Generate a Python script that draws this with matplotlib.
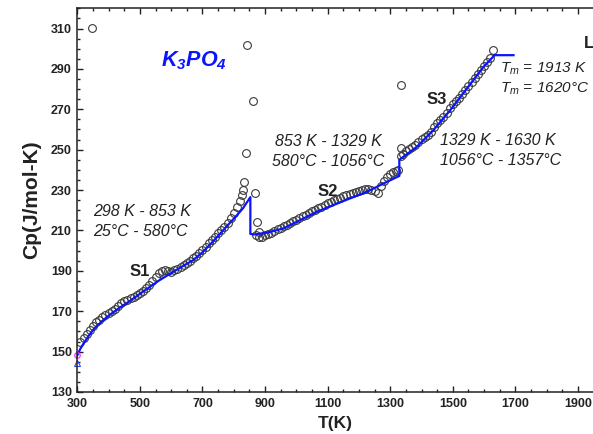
import matplotlib
matplotlib.use("Agg")
import matplotlib.pyplot as plt
from matplotlib.ticker import MultipleLocator

plt.rcParams['font.family'] = ['Liberation Sans', 'DejaVu Sans']
plt.rcParams['mathtext.default'] = 'regular'

# experimental Cp points (K, J/mol-K)
t_s1 = [310, 320, 330, 340, 350, 360, 370, 380, 390, 400, 410, 420, 430, 440, 450,
        460, 470, 480, 490, 500, 510, 520, 530, 540, 550, 560, 570, 580, 590, 600,
        610, 620, 630, 640, 650, 660, 670, 680, 690, 700, 710, 720, 730, 740, 750,
        760, 770, 780, 790, 800, 810, 820, 825, 830]
cp_s1 = [155, 156.5, 158.5, 160.5, 162.5, 164.5, 165.8, 167, 168, 169, 170, 171, 172.5, 174, 175,
         175.8, 176.5, 177.2, 178, 179, 180, 181.5, 183, 185, 187, 189, 190, 190.2, 189.8, 189.5,
         190.2, 191, 192, 193, 194, 195, 196.2, 197.5, 198.8, 200.3, 202, 203.7, 205.3, 207, 208.5,
         210, 211.8, 213.8, 216, 218.5, 221.5, 224.5, 227.7, 230]
t_s2 = [870, 880, 890, 900, 910, 920, 930, 940, 950, 960, 970, 980, 990, 1000, 1010,
        1020, 1030, 1040, 1050, 1060, 1070, 1080, 1090, 1100, 1110, 1120, 1130, 1140, 1150, 1160,
        1170, 1180, 1190, 1200, 1210, 1220, 1230, 1240, 1250, 1260, 1270, 1280, 1290, 1300, 1310,
        1320, 1325]
cp_s2 = [207.5, 207, 207, 207.5, 208, 208.8, 209.5, 210.5, 211.3, 212, 212.8, 213.6, 214.5, 215.3, 216.2,
         217, 217.8, 218.7, 219.5, 220.3, 221, 221.8, 222.6, 223.4, 224.2, 225, 225.7, 226.3, 227, 227.5,
         228, 228.5, 229, 229.6, 230, 230.3, 230.5, 230.2, 229.5, 228.5, 232, 234.5, 236.5, 238, 238.8,
         239.5, 240]
t_s3 = [1335, 1340, 1350, 1360, 1370, 1380, 1390, 1400, 1410, 1420, 1430, 1440, 1450, 1460, 1470,
        1480, 1490, 1500, 1510, 1520, 1530, 1540, 1550, 1560, 1570, 1580, 1590, 1600, 1610, 1620,
        1628]
cp_s3 = [247, 248, 249.5, 250.5, 251.5, 252.5, 254, 255.5, 256.5, 257.5, 259, 261, 263, 264.5, 266,
         268, 270.5, 272.5, 274, 275.5, 277.5, 279.5, 281.5, 283.5, 285.5, 287.5, 289.5, 291.5, 293.5, 295.5,
         299.6]
# scattered points
t_out = [348, 834, 839, 842, 863, 868, 874, 881, 1333, 1334]
cp_out = [310.2, 234, 248.5, 301.8, 274.2, 228.7, 214.3, 209.2, 250.6, 282]

# fitted curve S1 / S2 / S3 / L
t_fit = [298, 310, 320, 335, 350, 375, 400, 430, 460, 510, 563, 616, 670, 700, 723, 750, 776, 800,
         829, 853, 853, 863, 906, 959, 1012, 1066, 1119, 1172, 1226, 1279, 1329, 1329, 1385, 1438,
         1492, 1545, 1598, 1630, 1632, 1694]
cp_fit = [147.5, 151.5, 154, 157.5, 160.7, 164.5, 167.8, 171.2, 174.2, 179.7, 185.4, 190.4, 195.3, 199.2,
          202.8, 207.3, 211.8, 215.8, 220.9, 226.5, 208.3, 208.0, 208.9, 211, 215.1, 219.3, 222.6, 225.9,
          229.2, 233.3, 237, 245, 251.4, 259.7, 269.6, 280.3, 291, 296.2, 296.8, 296.8]

# reference values at 298 K
t_ref = 298
cp_ref_circle = 148.3
cp_ref_tri = 144.5

fig = plt.figure(figsize=(5.93, 4.34), dpi=100)
ax = fig.add_axes([0.1304, 0.0968, 0.8696, 0.884])

mk = dict(ls='none', marker='o', ms=5.6, mfc='none', mec='#3a3a3a', mew=0.8)
ax.plot(t_s1, cp_s1, **mk)
ax.plot(t_s2, cp_s2, **mk)
ax.plot(t_s3, cp_s3, **mk)
ax.plot(t_out, cp_out, **mk)
ax.plot(t_fit, cp_fit, color='#0a14ff', lw=1.6)
ax.plot([t_ref], [cp_ref_circle], ls='none', marker='o', ms=4, mfc='none', mec='#ff33ff', mew=0.9, clip_on=False)
ax.plot([t_ref], [cp_ref_tri], ls='none', marker='^', ms=5, mfc='none', mec='#3344ff', mew=0.8, clip_on=False)

ax.set_xlim(300, 1948)
ax.set_ylim(130, 320)
ax.set_xticks(range(300, 1901, 200))
ax.xaxis.set_minor_locator(MultipleLocator(50))
ax.set_yticks(range(130, 311, 20))
ax.yaxis.set_minor_locator(MultipleLocator(5))
ax.tick_params(which='both', direction='in', top=True, right=False, width=1, color='#222222')
ax.tick_params(which='major', length=4, labelsize=9, pad=4)
ax.tick_params(which='minor', length=2.2)
for lab in ax.get_xticklabels() + ax.get_yticklabels():
    lab.set_fontweight('bold')
    lab.set_color('#222222')
ax.spines['right'].set_visible(False)
for s in ['left', 'top', 'bottom']:
    ax.spines[s].set_linewidth(1.1)
    ax.spines[s].set_color('#222222')

ax.set_xlabel('T(K)', fontsize=12.5, fontweight='bold', labelpad=5, color='#222222')
ax.set_ylabel('Cp(J/mol-K)', fontsize=15, fontweight='bold', labelpad=7, color='#222222')

txt = dict(fontsize=11.5, style='italic', color='#222222', va='center')
ax.text(673, 294, 'K$_3$PO$_4$', fontsize=15.5, fontweight='bold', style='italic',
        color='#0a14ff', ha='center', va='center')
ax.text(350, 219.3, '298 K - 853 K', ha='left', **txt)
ax.text(350, 209.4, '25°C - 580°C', ha='left', **txt)
ax.text(1103, 254.2, '853 K - 1329 K', ha='center', **txt)
ax.text(1103, 244.3, '580°C - 1056°C', ha='center', **txt)
ax.text(1459, 254.7, '1329 K - 1630 K', ha='left', **txt)
ax.text(1459, 244.6, '1056°C - 1357°C', ha='left', **txt)
tm = dict(fontsize=11, style='italic', color='#222222', va='center', ha='left')
ax.text(1652, 289.9, 'T$_m$ = 1913 K', **tm)
ax.text(1652, 280.2, 'T$_m$ = 1620°C', **tm)

lbl = dict(fontsize=12, fontweight='bold', color='#222222', ha='center', va='center')
ax.text(500, 189.9, 'S1', **lbl)
ax.text(1101, 229.5, 'S2', **lbl)
ax.text(1449, 275, 'S3', **lbl)
ax.text(1936, 302.5, 'L', **lbl)

fig.savefig('out.png', dpi=100)
